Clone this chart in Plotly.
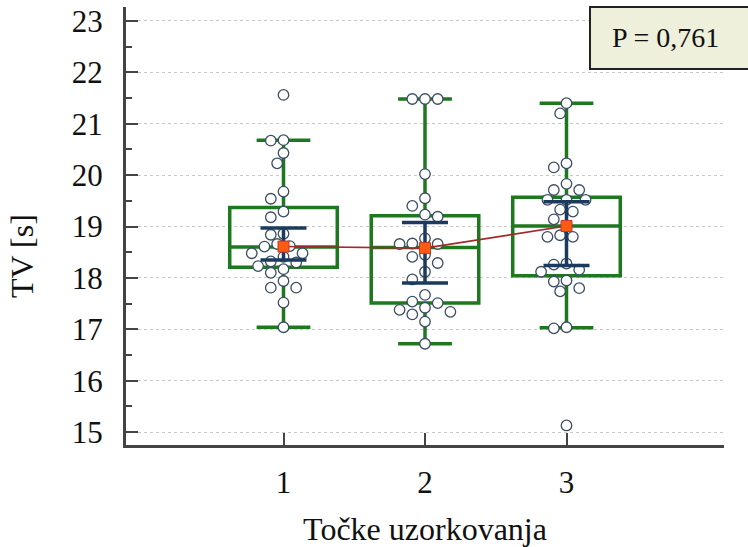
import plotly.graph_objects as go

# ---------------- data ----------------
categories = [1, 2, 3]
tick_labels = ["1", "2", "3"]

group1 = [21.56, 20.68, 20.67, 20.43, 20.23, 19.68, 19.54, 19.29, 19.18, 18.86,
          18.84, 18.66, 18.62, 18.61, 18.48, 18.48, 18.41, 18.32, 18.30, 18.23,
          18.17, 18.10, 17.94, 17.81, 17.81, 17.52, 17.04]
group2 = [21.48, 21.48, 21.48, 20.02, 19.55, 19.40, 19.23, 19.19, 18.77, 18.67,
          18.66, 18.66, 18.45, 18.41, 18.29, 18.12, 17.97, 17.67, 17.54, 17.51,
          17.42, 17.38, 17.34, 17.29, 17.15, 16.72]
group3 = [21.40, 21.20, 20.23, 20.15, 19.83, 19.71, 19.71, 19.52, 19.52, 19.52,
          19.33, 19.29, 19.14, 19.01, 18.83, 18.80, 18.80, 18.28, 18.26, 18.16,
          18.12, 17.95, 17.93, 17.80, 17.74, 17.04, 17.02, 15.13]
groups = [group1, group2, group3]

q1 = [18.21, 17.51, 18.04]
median = [18.60, 18.59, 19.01]
q3 = [19.37, 19.21, 19.57]
whisker_lo = [17.04, 16.72, 17.03]
whisker_hi = [20.68, 21.48, 21.40]
means = [18.61, 18.58, 19.01]
ci_lo = [18.35, 17.90, 18.24]
ci_hi = [18.97, 19.08, 19.48]

p_text = "P = 0,761"
x_title = "Točke uzorkovanja"
y_title = "TV [s]"

# ---------------- layout constants ----------------
W, H = 748, 547
ML, MR, MT, MB = 126, 24, 7, 102
XR = [-0.113, 4.113]
YR = [14.75, 23.27]
plot_w = W - ML - MR
plot_h = H - MT - MB
px_per_x = plot_w / (XR[1] - XR[0])
px_per_y = plot_h / (YR[1] - YR[0])

GREEN = "#1d781f"
NAVY = "#1b3a5e"
FONT = "Liberation Serif"


def beeswarm(vals, step_px=12.7, dmin=11.0):
    """Greedy swarm layout computed in pixel space; returns x offsets in data units."""
    order = sorted(range(len(vals)), key=lambda i: -vals[i])
    placed = []
    offs = [0.0] * len(vals)
    cands = [0.0]
    for k in range(1, 12):
        cands += [-k * step_px / 2, k * step_px / 2]
    for i in order:
        ypx = vals[i] * px_per_y
        for c in cands:
            ok = True
            for (px, py) in placed:
                if ((px - c) ** 2 + (py - ypx) ** 2) ** 0.5 < dmin:
                    ok = False
                    break
            if ok:
                placed.append((c, ypx))
                offs[i] = c / px_per_x
                break
    return offs


fig = go.Figure()

# boxes
for i, c in enumerate(categories):
    fig.add_trace(go.Box(
        x=[c], q1=[q1[i]], median=[median[i]], q3=[q3[i]],
        lowerfence=[whisker_lo[i]], upperfence=[whisker_hi[i]],
        width=0.76, whiskerwidth=0.5, boxpoints=False,
        line=dict(color=GREEN, width=3.5), fillcolor="rgba(255,255,255,0)",
        showlegend=False, hoverinfo="skip",
    ))

# individual points
for i, c in enumerate(categories):
    offs = beeswarm(groups[i])
    fig.add_trace(go.Scatter(
        x=[c + o for o in offs], y=groups[i], mode="markers",
        marker=dict(size=10.5, color="white", line=dict(color="#3b4d61", width=1.3)),
        showlegend=False,
    ))

# confidence interval of mean
fig.add_trace(go.Scatter(
    x=categories, y=means, mode="markers",
    marker=dict(size=1, color="rgba(0,0,0,0)"),
    error_y=dict(type="data", symmetric=False,
                 array=[h - m for h, m in zip(ci_hi, means)],
                 arrayminus=[m - l for m, l in zip(means, ci_lo)],
                 color=NAVY, thickness=3.5, width=23),
    showlegend=False,
))

# means with connecting line
fig.add_trace(go.Scatter(
    x=categories, y=means, mode="lines+markers",
    line=dict(color="#9e2a2b", width=1.6),
    marker=dict(symbol="square", size=11, color="#ff5a12",
                line=dict(color="#c0392b", width=1)),
    showlegend=False,
))

fig.update_layout(
    width=W, height=H,
    margin=dict(l=ML, r=MR, t=MT, b=MB, autoexpand=False),
    paper_bgcolor="white", plot_bgcolor="white",
    boxmode="overlay",
    font=dict(family=FONT, color="#111111"),
    xaxis=dict(
        range=XR, tickvals=categories, ticktext=tick_labels,
        ticks="inside", ticklen=12, tickwidth=2, tickcolor="#444444",
        showline=True, linecolor="#444444", linewidth=3,
        showgrid=False, zeroline=False, automargin=False,
        tickfont=dict(family=FONT, size=31, color="#111111"),
        ticklabelstandoff=8,
        title=dict(text=x_title, font=dict(family=FONT, size=32, color="#111111"),
                   standoff=24),
    ),
    yaxis=dict(
        range=YR, tick0=15, dtick=1,
        ticks="inside", ticklen=12, tickwidth=2, tickcolor="#444444",
        minor=dict(ticks="inside", ticklen=6, tickwidth=2, tickcolor="#444444",
                   dtick=0.5, showgrid=False),
        showline=True, linecolor="#444444", linewidth=3,
        showgrid=True, gridcolor="#c8c8c8", gridwidth=1, griddash="dot",
        zeroline=False, automargin=False,
        tickfont=dict(family=FONT, size=31, color="#111111"),
        ticklabelstandoff=14,
    ),
    shapes=[dict(
        type="rect", xref="paper", yref="paper",
        x0=(590 - ML) / plot_w, x1=1.1,
        y0=(H - MB - 69) / plot_h, y1=(H - MB - 7) / plot_h,
        fillcolor="#eef0dc", line=dict(color="#222222", width=2),
    )],
    annotations=[
        dict(text=p_text, xref="paper", yref="paper",
             x=(610 - ML) / plot_w, y=(H - MB - 37) / plot_h,
             xanchor="left", yanchor="middle", showarrow=False,
             font=dict(family=FONT, size=28, color="#111111")),
        dict(text=y_title, xref="paper", yref="paper",
             x=(22 - ML) / plot_w, y=(H - MB - 256) / plot_h,
             xanchor="center", yanchor="middle", textangle=-90, showarrow=False,
             font=dict(family=FONT, size=32, color="#111111")),
    ],
)

fig.write_html("out.html",
               config={"displayModeBar": False},
               post_script="document.body.style.margin='0';document.body.style.overflow='hidden';")
